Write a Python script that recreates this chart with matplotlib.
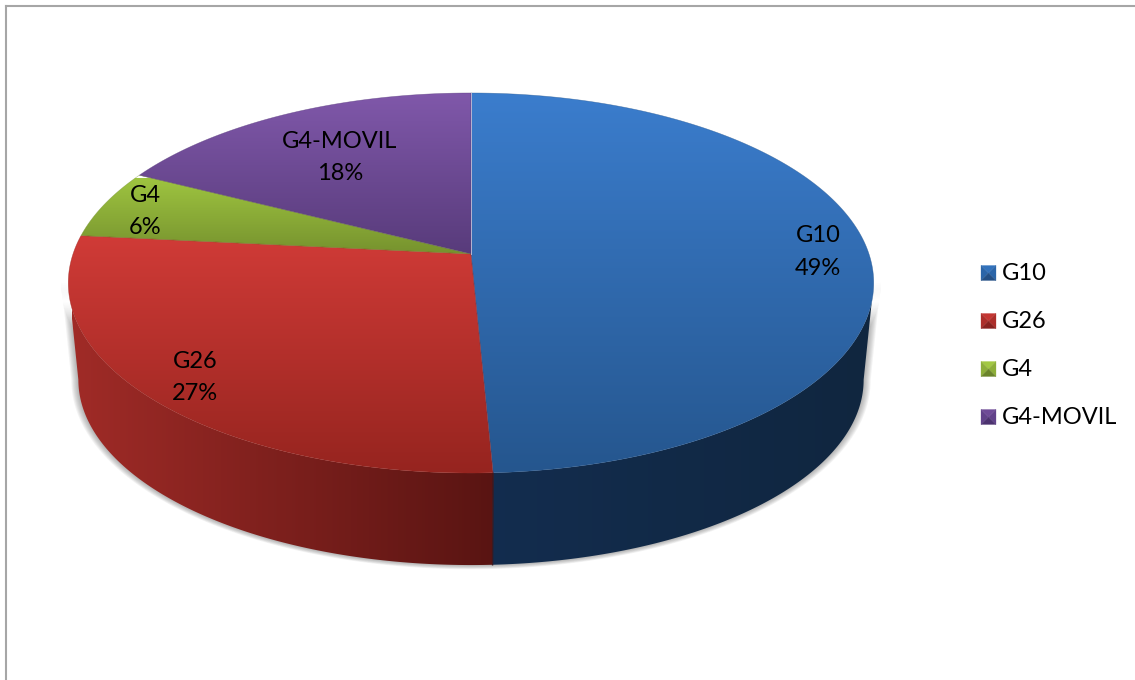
import numpy as np
import matplotlib
matplotlib.use("Agg")
import matplotlib.pyplot as plt
from matplotlib.patches import Polygon
from matplotlib.colors import LinearSegmentedColormap

categories = ["G10", "G26", "G4", "G4-MOVIL"]
values = [49.25, 27.35, 5.9, 17.5]
pct_labels = ["49%", "27%", "6%", "18%"]
label_xy = [(818, 251), (195, 376), (145, 210), (340, 156)]

top_colors = [("#3B7DCD", "#25568E"), ("#D03B37", "#96241F"), ("#9EC440", "#76922E"), ("#8058AA", "#583B7B")]
top_ranges = [(93, 473), (236, 473), (178, 254), (93, 254)]
wall_colors = {0: ("#132D4F", "#10263F"), 1: ("#A02B27", "#581412")}
wall_ranges = {0: (480, 872), 1: (72, 500)}
swatch_colors = [("#3272BC", "#2B65A8", "#234F85"), ("#C43632", "#AC2E2A", "#88211E"),
                 ("#A2C842", "#8DAE39", "#6A842A"), ("#6E4A97", "#61418A", "#4C3270")]

CX, CY, K, H, C = 471.0, 254.0, 398.0, 185.6, 0.1526
S, D = 0.975, 97.5


def project(theta, scale=1.0, drop=0.0):
    u, v = np.sin(theta), np.cos(theta)
    w = 1 + C * v
    return np.c_[CX + scale * K * u / w, CY + drop - scale * H * v / w]


fig = plt.figure(figsize=(11.35, 6.8), dpi=100)
ax = fig.add_axes([0, 0, 1, 1])
ax.set_xlim(0, 1135)
ax.set_ylim(680, 0)
ax.axis("off")


def gradient(poly, c0, c1, a, b, horizontal, z):
    cmap = LinearSegmentedColormap.from_list("g", [c0, c1])
    ramp = np.linspace(0, 1, 256)
    if horizontal:
        data, ext = ramp[None, :], (a, b, 700, -20)
    else:
        data, ext = ramp[:, None], (-20, 1150, b, a)
    patch = Polygon(poly, closed=True, fc="none", ec="none", transform=ax.transData)
    ax.add_patch(patch)
    im = ax.imshow(data, cmap=cmap, extent=ext, aspect="auto", zorder=z, interpolation="bilinear")
    im.set_clip_path(patch)
    ax.set_xlim(0, 1135)
    ax.set_ylim(680, 0)


edges = np.r_[0, np.cumsum(values)] / np.sum(values) * 2 * np.pi
tangent = np.arccos(-C)  # rim angle where the outline is widest

# soft shadow beside and below the wall
for grow in np.linspace(7, 1, 7):
    front = np.linspace(tangent, 2 * np.pi - tangent, 400)
    shadow = np.r_[project(front, S, D), project(front[::-1])]
    centre = np.array([CX, 330.0])
    shadow = centre + (shadow - centre) * np.array([(395 + grow) / 395, (235 + grow * 0.6) / 235])
    ax.add_patch(Polygon(shadow, closed=True, fc="#555555", ec="none", alpha=0.07, zorder=1))

# walls, visible front part of the two front slices
for i in wall_colors:
    start = max(edges[i], tangent if i == 0 else edges[i])
    stop = min(edges[i + 1], 2 * np.pi - tangent)
    th = np.linspace(start, stop, 300)
    poly = np.r_[project(th), project(th[::-1], S, D)]
    gradient(poly, *wall_colors[i], *wall_ranges[i], True, 2)
seam = np.r_[project(edges[[1]]), project(edges[[1]], S, D)]
ax.plot(seam[:, 0], seam[:, 1], color="#3A1A22", lw=1.0, zorder=2.5)

# top surface
for i in range(len(values)):
    th = np.linspace(edges[i], edges[i + 1], 300)
    poly = np.r_[[[CX, CY]], project(th)]
    gradient(poly, *top_colors[i], *top_ranges[i], False, 3)
    ax.add_patch(Polygon(poly, closed=True, fc="none", ec=top_colors[i][1], lw=0.4, alpha=0.6, zorder=3.5))

ax.plot([CX, CX], [93, CY], color="#B9B3D0", lw=0.7, zorder=4)

# labels
for name, pct, (x, y) in zip(categories, pct_labels, label_xy):
    ax.text(x, y - 15, name, ha="center", va="center", fontsize=17, family="Lato", color="black", zorder=6)
    ax.text(x, y + 17.5, pct, ha="center", va="center", fontsize=17, family="Lato", color="black", zorder=6)

# legend
for name, (c_top, c_mid, c_bot), y in zip(categories, swatch_colors, [273, 321, 369, 417]):
    x0, x1, y0, y1 = 981, 996, y - 7.5, y + 7.5
    mx, my = (x0 + x1) / 2, (y0 + y1) / 2
    ax.add_patch(Polygon([(x0, y0), (x1, y0), (mx, my)], fc=c_top, ec=c_top, lw=0.2, zorder=5))
    ax.add_patch(Polygon([(x0, y0), (x0, y1), (mx, my)], fc=c_mid, ec=c_mid, lw=0.2, zorder=5))
    ax.add_patch(Polygon([(x1, y0), (x1, y1), (mx, my)], fc=c_mid, ec=c_mid, lw=0.2, zorder=5))
    ax.add_patch(Polygon([(x0, y1), (x1, y1), (mx, my)], fc=c_bot, ec=c_bot, lw=0.2, zorder=5))
    ax.text(1002, y + 0.5, name, ha="left", va="center", fontsize=17, family="Lato", color="black", zorder=6)

# chart-area border
ax.plot([6, 6], [680, 6], color="#A6A6A6", lw=1.5, zorder=7, solid_capstyle="projecting")
ax.plot([6, 1135], [6, 6], color="#A6A6A6", lw=1.5, zorder=7, solid_capstyle="projecting")

fig.savefig("out.png", dpi=100)
